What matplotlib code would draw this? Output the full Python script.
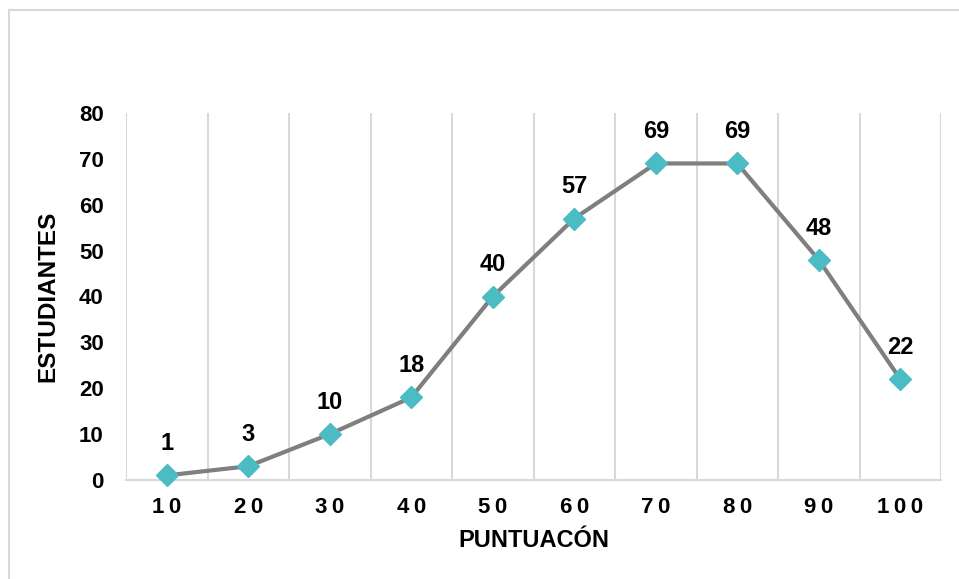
import matplotlib
matplotlib.use("Agg")
import matplotlib.pyplot as plt
from matplotlib.lines import Line2D

categories = ["10", "20", "30", "40", "50", "60", "70", "80", "90", "100"]
values = [1, 3, 10, 18, 40, 57, 69, 69, 48, 22]
yticks = [0, 10, 20, 30, 40, 50, 60, 70, 80]

plt.rcParams['font.family'] = ['Liberation Sans', 'DejaVu Sans']

W, H = 959, 579
fig = plt.figure(figsize=(W / 100, H / 100), dpi=100)
ax = fig.add_axes([126 / W, (H - 480) / H, (941 - 126) / W, (480 - 113) / H])

x = list(range(len(categories)))
ax.plot(x, values, color="#7F7F7F", lw=3, marker="D", ms=11,
        markerfacecolor="#4BBCC4", markeredgecolor="#4BBCC4", zorder=3,
        clip_on=False)

for xi, v in zip(x, values):
    ax.annotate(str(v), (xi, v), xytext=(0, 14.5), textcoords="offset points",
                ha="center", va="bottom", fontsize=17, fontweight="bold",
                color="#000000")

ax.set_xlim(-0.5, len(categories) - 0.5)
ax.set_ylim(0, 80)
ax.set_yticks(yticks)
ax.set_yticklabels([str(t) for t in yticks], fontsize=16, fontweight="bold")
ax.set_xticks(x)
ax.set_xticklabels(["\u2009".join(c) for c in categories], fontsize=16,
                   fontweight="bold")
ax.tick_params(axis="both", length=0)
ax.tick_params(axis="y", pad=16)
ax.tick_params(axis="x", pad=12)

for b in range(len(categories) + 1):
    ax.axvline(b - 0.5, color="#D9D9D9", lw=1.5, zorder=1)

for s in ["left", "right", "top"]:
    ax.spines[s].set_visible(False)
ax.spines["bottom"].set_color("#D9D9D9")
ax.spines["bottom"].set_linewidth(1.5)

ax.set_xlabel("PUNTUACÓN", fontsize=17, fontweight="bold", labelpad=8)
ax.set_ylabel("ESTUDIANTES", fontsize=17.5, fontweight="bold", labelpad=14)

# figure border (left and top visible)
fig.add_artist(Line2D([9 / W, 9 / W], [0, 1 - 10 / H], transform=fig.transFigure,
                      color="#D9D9D9", lw=1.5))
fig.add_artist(Line2D([9 / W, 1], [1 - 10 / H, 1 - 10 / H], transform=fig.transFigure,
                      color="#D9D9D9", lw=1.5))

fig.savefig("out.png", dpi=100)
